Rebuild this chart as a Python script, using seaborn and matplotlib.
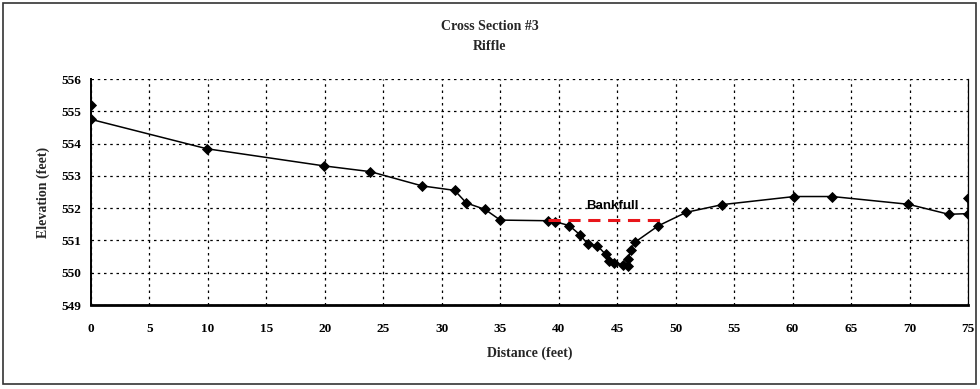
import matplotlib
matplotlib.use("Agg")
import matplotlib.pyplot as plt
import seaborn as sns
import pandas as pd
from matplotlib.patches import Rectangle

# Surveyed cross-section points (station in feet, elevation in feet)
distance = [0.0, 0.0, 9.9, 19.9, 23.9, 28.3, 31.1, 32.1, 33.7, 35.0,
            39.1, 39.7, 40.9, 41.8, 42.5, 43.3, 44.0, 44.3, 44.7, 45.5,
            45.95, 45.95, 46.15, 46.5, 48.5, 50.9, 54.0, 60.15, 63.4, 69.9,
            73.35, 75.0, 75.0]
elevation = [555.19, 554.75, 553.84, 553.31, 553.13, 552.69, 552.55, 552.16, 551.96, 551.63,
             551.61, 551.58, 551.46, 551.18, 550.88, 550.84, 550.57, 550.36, 550.31, 550.24,
             550.22, 550.43, 550.70, 550.94, 551.45, 551.87, 552.11, 552.36, 552.36, 552.12,
             551.81, 551.83, 552.32]

# Bankfull stage
bankfull_x = [39.1, 49.3]
bankfull_y = [551.63, 551.63]

x_ticks = list(range(0, 80, 5))
y_ticks = list(range(549, 557))

sns.set_style("white")
plt.rcParams["font.family"] = ["Liberation Serif", "DejaVu Serif"]

fig = plt.figure(figsize=(9.8, 3.89), dpi=100)
ax = fig.add_axes([91 / 980, 1 - 305 / 389, (968 - 91) / 980, (305 - 79) / 389])

df = pd.DataFrame({"Distance": distance, "Elevation": elevation})
sns.lineplot(data=df, x="Distance", y="Elevation", sort=False, estimator=None,
             color="black", linewidth=1.1, marker="D", markersize=4.6,
             markeredgewidth=0.6, markeredgecolor="black", ax=ax)
ax.plot(bankfull_x, bankfull_y, color="#e8161b", linestyle=(0, (4, 2.5)), linewidth=2.2, zorder=3)
ax.text(44.6, 552.07, "Bankfull", ha="center", va="center", fontsize=9.5,
        fontweight="bold", family=["Liberation Sans", "DejaVu Sans"], color="black")

ax.set_xlim(0, 75)
ax.set_ylim(549, 556)
ax.set_xticks(x_ticks)
ax.set_yticks(y_ticks)
ax.grid(True, color="black", linestyle=(0, (2, 3)), linewidth=0.9)

for lbl in ax.get_xticklabels() + ax.get_yticklabels():
    lbl.set_fontweight("bold")
    lbl.set_fontsize(9.5)
ax.tick_params(axis="both", direction="inout", length=6, width=0.9, colors="black")
ax.tick_params(axis="x", pad=10)
ax.tick_params(axis="y", pad=4)

ax.spines["top"].set_visible(False)
ax.spines["left"].set_linewidth(1.4)
ax.spines["bottom"].set_linewidth(2.0)
ax.spines["right"].set_linewidth(0.9)
for s in ax.spines.values():
    s.set_color("black")

ax.set_xlabel("Distance (feet)", fontsize=10, fontweight="bold", labelpad=8)
ax.set_ylabel("Elevation (feet)", fontsize=10, fontweight="bold", labelpad=8)

fig.text(0.5, 1 - 26 / 389, "Cross Section #3", ha="center", va="center", fontsize=10, fontweight="bold")
fig.text(0.5, 1 - 46 / 389, "Riffle", ha="center", va="center", fontsize=10, fontweight="bold")

# Chart-area frame
fig.patches.append(Rectangle((3 / 980, 5 / 389), 973 / 980, 381 / 389, transform=fig.transFigure,
                             fill=False, edgecolor="#333333", linewidth=1.2))

fig.savefig("out.png", dpi=100)
